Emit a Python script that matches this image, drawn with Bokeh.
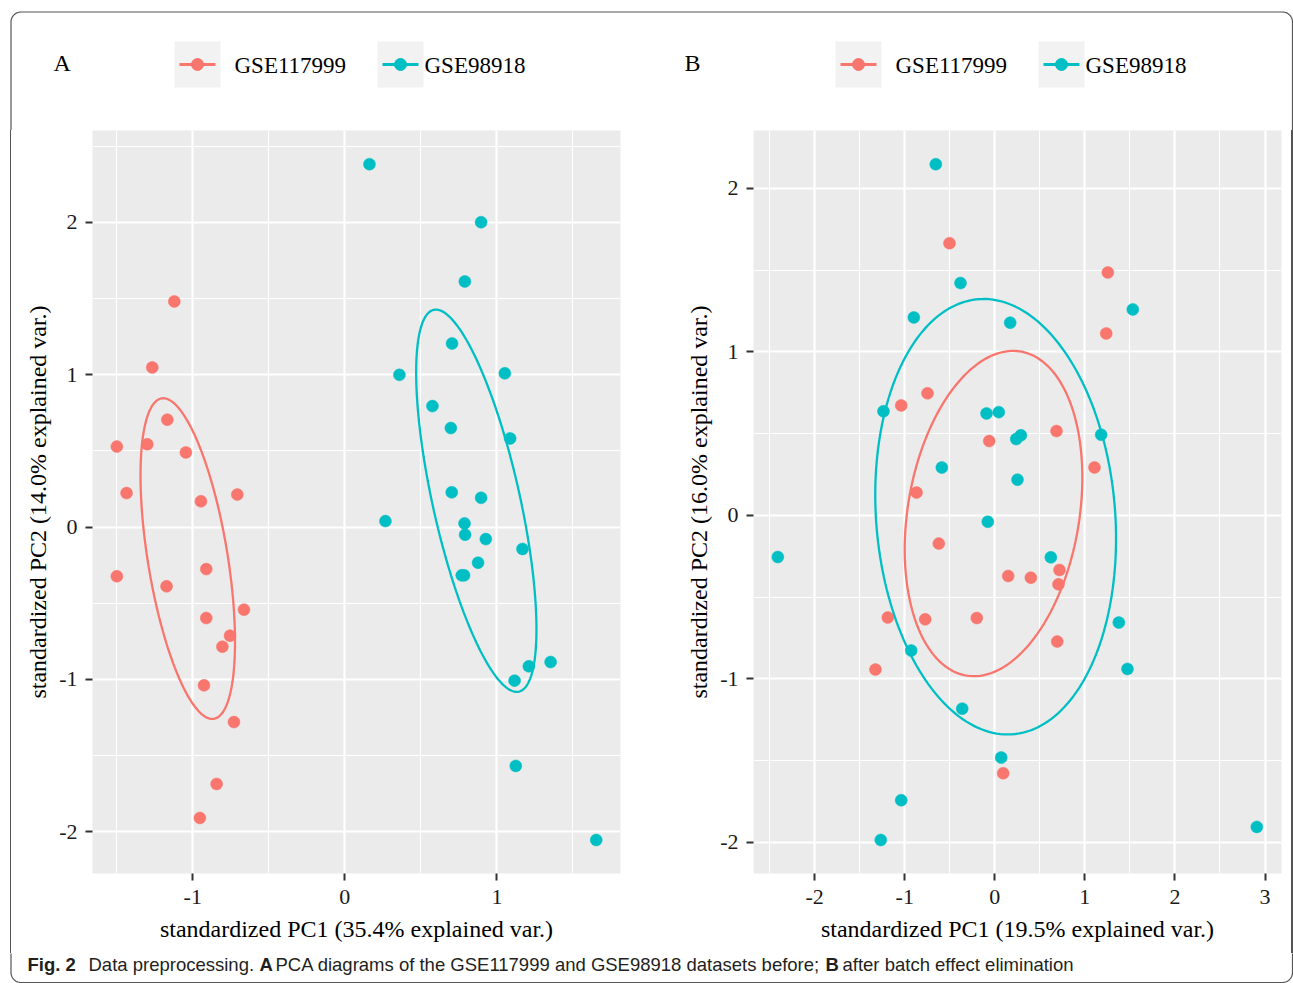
import numpy as np
from bokeh.plotting import figure
from bokeh.layouts import column, row
from bokeh.models import Range1d, FixedTicker, Div
from bokeh.embed import file_html
from bokeh.resources import INLINE
from bokeh.core.properties import value

# ---- data: PCA scores before (A) and after (B) batch effect removal ----
groups = ["GSE117999", "GSE98918"]
colors = ["#F8766D", "#00BFC4"]

a_gse117999_x = [-1.121, -1.266, -1.167, -1.499, -1.299, -1.045, -1.435, -0.946, -0.707, -1.499,
                 -1.172, -0.911, -0.663, -0.911, -0.755, -0.805, -0.926, -0.729, -0.843, -0.953]
a_gse117999_y = [1.481, 1.048, 0.705, 0.528, 0.543, 0.490, 0.223, 0.169, 0.213, -0.323,
                 -0.389, -0.276, -0.542, -0.597, -0.713, -0.785, -1.039, -1.280, -1.686, -1.909]
a_gse98918_x = [0.162, 0.896, 0.789, 0.705, 0.359, 1.052, 0.576, 0.697, 1.087, 0.703, 0.896, 0.267,
                0.787, 0.791, 0.927, 1.168, 0.876, 0.769, 0.784, 1.353, 1.210, 1.116, 1.124, 1.653]
a_gse98918_y = [2.382, 2.001, 1.612, 1.205, 0.999, 1.009, 0.794, 0.650, 0.582, 0.228, 0.192, 0.039,
                0.024, -0.050, -0.079, -0.144, -0.234, -0.317, -0.317, -0.886, -0.914, -1.008, -1.568, -2.054]

b_gse117999_x = [-0.503, -0.869, -1.039, -0.747, -0.062, 1.255, 1.237, 0.685, 1.107, -0.622,
                 -1.188, -0.773, -0.200, -1.325, 0.718, 0.707, 0.149, 0.400, 0.693, 0.093]
b_gse117999_y = [1.664, 0.139, 0.672, 0.746, 0.454, 1.485, 1.112, 0.515, 0.293, -0.173,
                 -0.625, -0.636, -0.628, -0.943, -0.334, -0.422, -0.371, -0.381, -0.772, -1.577]
b_gse98918_x = [-0.655, -0.381, -0.899, -1.236, -0.092, -0.588, 1.532, 0.171, 0.044, 0.238, 0.289, 1.181,
                0.252, -0.078, -2.409, -0.928, -0.362, -1.039, -1.266, 0.622, 1.377, 1.473, 0.071, 2.909]
b_gse98918_y = [2.147, 1.420, 1.210, 0.636, 0.623, 0.292, 1.259, 1.178, 0.631, 0.466, 0.489, 0.493,
                0.218, -0.039, -0.255, -0.827, -1.182, -1.742, -1.985, -0.257, -0.656, -0.939, -1.481, -1.905]

a_xticks = [-1, 0, 1]
a_xtick_labels = ["-1", "0", "1"]
a_yticks = [-2, -1, 0, 1, 2]
a_ytick_labels = ["-2", "-1", "0", "1", "2"]
b_xticks = [-2, -1, 0, 1, 2, 3]
b_xtick_labels = ["-2", "-1", "0", "1", "2", "3"]
b_yticks = [-2, -1, 0, 1, 2]
b_ytick_labels = ["-2", "-1", "0", "1", "2"]

a_xlabel = "standardized PC1 (35.4% explained var.)"
a_ylabel = "standardized PC2 (14.0% explained var.)"
b_xlabel = "standardized PC1 (19.5% explained var.)"
b_ylabel = "standardized PC2 (16.0% explained var.)"

caption_parts = [("Fig. 2", "bold"), ("Data preprocessing.", "normal"), ("A", "bold"),
                 ("PCA diagrams of the GSE117999 and GSE98918 datasets before;", "normal"),
                 ("B", "bold"), ("after batch effect elimination", "normal")]

SERIF = "Liberation Serif"
SANS = "Liberation Sans"
ELLIPSE_PROB = 0.5
BORDER = "#555555"

# page geometry (pixels)
PAGE_W, PAGE_H = 1293, 983
HEAD_H = 130
MAIN_H = 823
FRAME_H = 743
BOX_L, BOX_T, BOX_R, BOX_B, BOX_RAD = 10.5, 11.5, 1292, 982, 10


def normal_ellipse(xs, ys, prob=ELLIPSE_PROB, n=200):
    """Normal-probability contour from the group's mean and covariance."""
    xs, ys = np.asarray(xs), np.asarray(ys)
    sigma = np.cov(xs, ys)
    mu = np.array([xs.mean(), ys.mean()])
    ed = np.sqrt(-2.0 * np.log(1.0 - prob))
    theta = np.linspace(-np.pi, np.pi, n)
    circle = np.column_stack([np.cos(theta), np.sin(theta)])
    pts = circle @ np.linalg.cholesky(sigma).T * ed + mu
    return pts[:, 0], pts[:, 1]


def rounded_rect(l, t, r, b, rad, n=16, step=4.0):
    """Closed rounded-rectangle path, densely sampled along the straight edges."""
    corners = [(l + rad, t + rad, 180), (r - rad, t + rad, 270),
               (r - rad, b - rad, 0), (l + rad, b - rad, 90)]
    arcs = []
    for cx, cy, a0 in corners:
        ang = np.radians(np.linspace(a0, a0 + 90, n))
        arcs.append((cx + rad * np.cos(ang), cy + rad * np.sin(ang)))
    xs, ys = [], []
    for i, (ax, ay) in enumerate(arcs):
        xs += list(ax); ys += list(ay)
        nx, ny = arcs[(i + 1) % 4]
        x0, y0, x1, y1 = ax[-1], ay[-1], nx[0], ny[0]
        k = max(2, int(np.hypot(x1 - x0, y1 - y0) / step))
        xs += list(np.linspace(x0, x1, k)[1:-1]); ys += list(np.linspace(y0, y1, k)[1:-1])
    xs.append(xs[0]); ys.append(ys[0])
    return xs, ys


frame_x, frame_y = rounded_rect(BOX_L, BOX_T, BOX_R, BOX_B, BOX_RAD)


def page_canvas(x0, x1, y0, y1):
    """Blank figure whose data space is page pixels (y downward)."""
    p = figure(width=int(x1 - x0), height=int(y1 - y0),
               x_range=Range1d(x0, x1), y_range=Range1d(y1, y0),
               output_backend="svg", toolbar_location=None,
               x_axis_location=None, y_axis_location=None, min_border=0)
    p.grid.visible = False
    p.outline_line_color = None
    p.background_fill_color = None
    p.line(frame_x, frame_y, line_color=BORDER, line_width=1.2)
    return p


def side_strip(x0, x1, edge):
    """Narrow spacer painting one vertical edge of the figure box."""
    a, b = edge - 0.6 - x0, edge + 0.6 - x0
    grad = (f"linear-gradient(to right, transparent {a:.1f}px, {BORDER} {a:.1f}px, "
            f"{BORDER} {b:.1f}px, transparent {b:.1f}px)")
    return Div(text="", width=int(x1 - x0), height=MAIN_H, margin=0,
               styles={"background": grad, "padding": "0", "border": "none"})


def pca_panel(series, xr, yr, xticks, xlabels, yticks, ylabels, xlabel, ylabel,
              width, left, right):
    p = figure(width=width, height=MAIN_H, x_range=Range1d(*xr), y_range=Range1d(*yr),
               output_backend="svg", toolbar_location=None,
               min_border_left=left, min_border_right=right,
               min_border_top=0, min_border_bottom=MAIN_H - FRAME_H)
    p.background_fill_color = "#EBEBEB"
    p.outline_line_color = None

    xminor = [t + 0.5 for t in range(int(np.floor(xr[0])) - 1, int(np.ceil(xr[1])) + 1)]
    yminor = [t + 0.5 for t in range(int(np.floor(yr[0])) - 1, int(np.ceil(yr[1])) + 1)]
    xt = FixedTicker(ticks=xticks, minor_ticks=xminor)
    yt = FixedTicker(ticks=yticks, minor_ticks=yminor)
    p.xaxis.ticker = xt
    p.yaxis.ticker = yt
    p.xgrid.ticker = xt
    p.ygrid.ticker = yt
    for g in (p.xgrid, p.ygrid):
        g.grid_line_color = "white"
        g.grid_line_width = 2.2
        g.minor_grid_line_color = "white"
        g.minor_grid_line_width = 1.1

    p.xaxis.major_label_overrides = dict(zip(xticks, xlabels))
    p.yaxis.major_label_overrides = dict(zip(yticks, ylabels))
    for ax in (p.xaxis, p.yaxis):
        ax.axis_line_color = None
        ax.minor_tick_line_color = None
        ax.major_tick_line_color = "#333333"
        ax.major_tick_line_width = 2
        ax.major_tick_in = 0
        ax.major_tick_out = 7
        ax.major_label_text_font = SERIF
        ax.major_label_text_font_size = "22px"
        ax.major_label_text_color = "#1a1a1a"
        ax.axis_label_text_font = SERIF
        ax.axis_label_text_font_size = "24px"
        ax.axis_label_text_font_style = "normal"
        ax.axis_label_text_color = "black"
    p.xaxis.major_label_standoff = 9
    p.yaxis.major_label_standoff = 8
    p.xaxis.axis_label_standoff = 9
    p.yaxis.axis_label_standoff = 5
    p.xaxis.axis_label = xlabel
    p.yaxis.axis_label = ylabel

    for (xs, ys), c in zip(series, colors):
        p.scatter(xs, ys, size=12, fill_color=c, line_color=c, line_width=0.5)
    for (xs, ys), c in zip(series, colors):
        ex, ey = normal_ellipse(xs, ys)
        p.line(ex, ey, line_color=c, line_width=2.3)
    return p


# ---- header: panel letters and legends ----
head = page_canvas(0, PAGE_W, 0, HEAD_H)
for letter, lx, keys in [("A", 53, [174, 377]), ("B", 684, [835, 1038])]:
    head.text([lx], [62], text=[letter], text_font=value(SERIF), text_font_size="24px",
              text_baseline="middle", text_align="left", text_color="black")
    label_left = [keys[0] + 60, keys[1] + 47]
    for k, name, c, tx in zip(keys, groups, colors, label_left):
        head.quad(left=[k], right=[k + 46], top=[41], bottom=[87],
                  fill_color="#F2F2F2", line_color=None)
        head.segment([k + 5], [64], [k + 41], [64], line_color=c, line_width=2.8)
        head.scatter([k + 23], [64], size=12, fill_color=c, line_color=c)
        head.text([tx], [65], text=[name], text_font=value(SERIF), text_font_size="23px",
                  text_baseline="middle", text_align="left", text_color="black")

# ---- panels ----
panel_a = pca_panel([(a_gse117999_x, a_gse117999_y), (a_gse98918_x, a_gse98918_y)],
                    (-1.659, 1.8125), (-2.274, 2.603),
                    a_xticks, a_xtick_labels, a_yticks, a_ytick_labels, a_xlabel, a_ylabel,
                    width=635, left=81, right=26)
panel_b = pca_panel([(b_gse117999_x, b_gse117999_y), (b_gse98918_x, b_gse98918_y)],
                    (-2.679, 3.183), (-2.190, 2.353),
                    b_xticks, b_xtick_labels, b_yticks, b_ytick_labels, b_xlabel, b_ylabel,
                    width=638, left=107, right=3)

side_l = side_strip(0, 11, BOX_L)
side_r = side_strip(1284, PAGE_W, BOX_R)

# ---- caption ----
cap = page_canvas(0, PAGE_W, HEAD_H + MAIN_H, PAGE_H)
cap_x = [27, 88, 259, 275, 825, 842]
for (txt, style), cx in zip(caption_parts, cap_x):
    cap.text([cx], [964], text=[txt], text_font=value(SANS), text_font_size="18.5px",
             text_font_style=style, text_baseline="middle", text_align="left",
             text_color="#231f20")

layout = column(head, row(side_l, panel_a, panel_b, side_r), cap)

with open("out.html", "w") as f:
    f.write(file_html(layout, INLINE, title="PCA before and after batch correction"))
